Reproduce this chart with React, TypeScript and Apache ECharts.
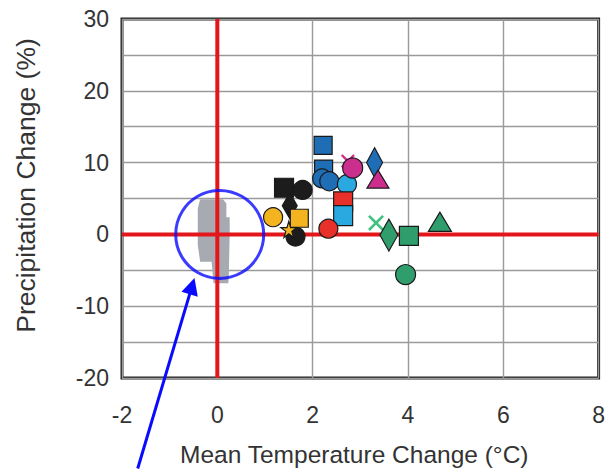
import React, { useEffect, useRef } from "react";
import * as echarts from "echarts";

// Axis
const xTicks = [-2, 0, 2, 4, 6, 8];
const yTicks = [-20, -10, 0, 10, 20, 30];

// Grey natural-variability region (outline vertices, °C / %)
const variability = [
  [-0.36, 4.9], [0.12, 4.9], [0.19, 4.3], [0.19, 2.4], [0.26, 2.4], [0.26, 0.4],
  [0.24, -6.1], [0.23, -6.8], [-0.08, -6.8], [-0.12, -3.8], [-0.36, -3.8],
  [-0.41, -1.5], [-0.41, 3.6],
];

// Model results
const blackSquares = [[1.4, 6.5]];
const blackCircles = [[1.79, 6.2], [1.64, -0.3]];
const blackDiamonds = [[1.52, 4.0]];
const yellowCircles = [[1.17, 2.4]];
const yellowSquares = [[1.72, 2.25]];
const yellowStars = [[1.5, 0.7]];
const blueSquares = [[2.22, 12.4], [2.23, 9.1]];
const blueCircles = [[2.2, 7.8], [2.35, 7.4]];
const blueDiamonds = [[3.3, 10.0]];
const cyanCircles = [[2.72, 7.0]];
const redSquares = [[2.64, 4.6]];
const cyanSquares = [[2.64, 2.6]];
const magentaCrosses = [[2.74, 10.2]];
const magentaCircles = [[2.84, 9.25]];
const magentaTriangles = [[3.37, 7.7]];
const redCircles = [[2.33, 0.8]];
const greenCrosses = [[3.33, 1.6]];
const greenDiamonds = [[3.6, -0.1]];
const greenSquares = [[4.02, -0.2]];
const greenTriangles = [[4.67, 1.75]];
const greenCircles = [[3.95, -5.6]];

// Annotations
const zeroX = [[0, -20], [0, 30]];
const zeroY = [[-2, 0], [8, 0]];
const highlightCircle = [[0.05, 0]];
const arrowCoords = [[-1.67, -32.6], [-0.53, -7.2]];

const STAR = "path://M50,0 L61,35 L98,35 L68,57 L79,91 L50,70 L21,91 L32,57 L2,35 L39,35 Z";
const CROSS = "path://M0,12 L12,0 L50,38 L88,0 L100,12 L62,50 L100,88 L88,100 L50,62 L12,100 L0,88 L38,50 Z";

const BLACK = "#1c1c1c";
const YELLOW = "#f4b41f";
const BLUE = "#1f6db5";
const CYAN = "#2aa8e0";
const MAGENTA = "#cc2e8e";
const RED = "#e8302b";
const GREEN = "#2f9e6c";
const GREEN_LIGHT = "#45c083";

function pts(name: string, data: number[][], symbol: string, size: any, color: string, border = true) {
  return {
    name,
    type: "scatter",
    data,
    symbol,
    symbolSize: size,
    z: 3,
    silent: true,
    itemStyle: {
      color,
      opacity: 1,
      borderColor: border ? "#1a1a1a" : color,
      borderWidth: border ? 1.2 : 0,
    },
  };
}

export default function App() {
  const ref = useRef<HTMLDivElement>(null);
  useEffect(() => {
    const chart = echarts.init(ref.current!, null, { renderer: "svg" });
    const font = "'Liberation Sans', Arial, Helvetica, sans-serif";
    chart.setOption({
      animation: false,
      backgroundColor: "#ffffff",
      grid: {
        left: 122,
        right: 3,
        top: 19,
        bottom: 91,
        show: true,
        borderColor: "#222222",
        borderWidth: 3,
        backgroundColor: "transparent",
      },
      xAxis: {
        type: "value",
        min: xTicks[0],
        max: xTicks[xTicks.length - 1],
        interval: 2,
        name: "Mean Temperature Change (°C)",
        nameLocation: "middle",
        nameGap: 64,
        nameTextStyle: { fontFamily: font, fontSize: 24.5, color: "#333", padding: [0, 12, 0, 0] },
        axisLine: { show: false },
        axisTick: { show: false },
        axisLabel: { fontFamily: font, fontSize: 23, color: "#333", margin: 25 },
        splitLine: { show: true, lineStyle: { color: "#9a9a9a", width: 1.4 } },
      },
      yAxis: {
        type: "value",
        min: yTicks[0],
        max: yTicks[yTicks.length - 1],
        interval: 5,
        name: "Precipitation Change (%)",
        nameLocation: "middle",
        nameGap: 83,
        nameTextStyle: { fontFamily: font, fontSize: 26.5, color: "#333", padding: [0, 0, 0, 26] },
        axisLine: { show: false },
        axisTick: { show: false },
        axisLabel: {
          fontFamily: font,
          fontSize: 23,
          color: "#333",
          margin: 13,
          formatter: (v: number) => (yTicks.includes(v) ? String(v) : ""),
        },
        splitLine: { show: true, lineStyle: { color: "#9a9a9a", width: 1.4 } },
      },
      series: [
        {
          type: "custom",
          z: 1,
          silent: true,
          data: variability,
          renderItem: (params: any, api: any) => {
            if (params.dataIndex !== 0) return null;
            return {
              type: "polygon",
              shape: { points: variability.map((p) => api.coord(p)) },
              style: { fill: "#a7abb1" },
            };
          },
        },
        {
          type: "line",
          data: zeroX,
          symbol: "none",
          z: 2,
          silent: true,
          lineStyle: { color: "#e3161c", width: 4 },
        },
        {
          type: "line",
          data: zeroY,
          symbol: "none",
          z: 2,
          silent: true,
          lineStyle: { color: "#e3161c", width: 4 },
        },
        pts("bsq", blackSquares, "rect", 19, BLACK),
        pts("bci", blackCircles, "circle", 19, BLACK),
        pts("bdi", blackDiamonds, "diamond", [15, 26], BLACK),
        pts("yci", yellowCircles, "circle", 19, YELLOW),
        pts("ysq", yellowSquares, "rect", 18, YELLOW),
        pts("yst", yellowStars, STAR, 16, YELLOW),
        pts("blsq", blueSquares, "rect", 18, BLUE),
        pts("blci", blueCircles, "circle", 19, BLUE),
        pts("bldi", blueDiamonds, "diamond", [16, 30], BLUE),
        pts("cyci", cyanCircles, "circle", 19, CYAN),
        pts("rsq", redSquares, "rect", 19, RED),
        pts("cysq", cyanSquares, "rect", [19, 20], CYAN),
        pts("mx", magentaCrosses, CROSS, 14, MAGENTA, false),
        pts("mci", magentaCircles, "circle", 20, MAGENTA),
        pts("mtr", magentaTriangles, "triangle", [22, 18], MAGENTA),
        pts("rci", redCircles, "circle", 19, RED),
        pts("gx", greenCrosses, CROSS, 16, GREEN_LIGHT, false),
        pts("gdi", greenDiamonds, "diamond", [18, 32], GREEN),
        pts("gsq", greenSquares, "rect", 19, GREEN),
        pts("gtr", greenTriangles, "triangle", [23, 19], GREEN),
        pts("gci", greenCircles, "circle", 20, GREEN),
        {
          type: "scatter",
          data: highlightCircle,
          symbol: "circle",
          symbolSize: 88,
          z: 5,
          silent: true,
          itemStyle: { color: "rgba(0,0,0,0)", borderColor: "#0a0aff", borderWidth: 3 },
        },
        {
          type: "lines",
          coordinateSystem: "cartesian2d",
          clip: false,
          z: 5,
          silent: true,
          symbol: ["none", "triangle"],
          symbolSize: 17,
          lineStyle: { color: "#0a0aff", width: 3, opacity: 1 },
          data: [{ coords: arrowCoords }],
        },
      ],
    });
    return () => chart.dispose();
  }, []);
  return (
    <div
      ref={ref}
      style={{ position: "fixed", left: 0, top: 0, width: 608, height: 472 }}
    />
  );
}
